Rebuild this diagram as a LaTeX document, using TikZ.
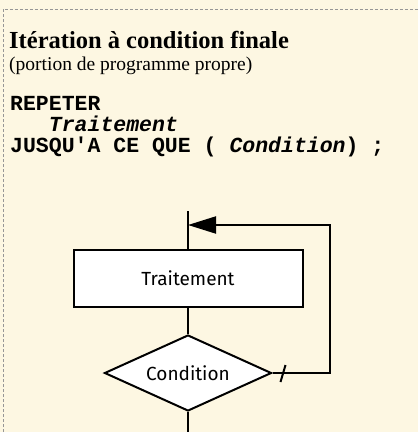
\documentclass[tikz,border=0pt]{standalone}
\usepackage{fontspec}
\setmainfont{Liberation Serif}
\setmonofont{Liberation Mono}
\newfontfamily\dinfont{Fira Sans}
\usetikzlibrary{shapes.geometric,arrows.meta}
\definecolor{papier}{RGB}{253,247,226}
\definecolor{bord}{RGB}{150,150,150}

\begin{document}
\begin{tikzpicture}[x=1pt,y=-1pt,
    trait/.style={line width=2pt},
    texte/.style={anchor=base west,inner sep=0pt},
    code/.style={texte,font=\ttfamily\bfseries\fontsize{21.5}{21}\selectfont},
    boite/.style={draw,trait,fill=white,minimum width=229pt,minimum height=57pt,
        inner sep=0pt,font=\dinfont\fontsize{19}{22}\selectfont},
    test/.style={draw,trait,fill=white,shape=diamond,aspect=2.2,minimum width=167pt,
        minimum height=76pt,inner sep=0pt,font=\dinfont\fontsize{19}{22}\selectfont}]

    % fond et cadre
    \fill[papier] (0,0) rectangle (418,432);
    \useasboundingbox (0,0) rectangle (418,432);
    \draw[bord,densely dashed,line width=0.6pt] (3,432) -- (3,9) -- (418,9);

    % titre
    \node[texte,font=\bfseries\fontsize{24.5}{28}\selectfont] (titre) at (9,48) {Itération à condition finale};
    \node[texte,font=\fontsize{19.5}{24}\selectfont] (sstitre) at (9,70) {(portion de programme propre)};

    % code
    \node[code] (repeter) at (10,110) {REPETER};
    \node[code] (corps) at (10,131) {\phantom{XXX}\itshape Traitement};
    \node[code] (jusqua) at (10,152) {JUSQU\char39 A CE QUE ( {\itshape Condition}) ;};

    % organigramme
    \coordinate (haut) at (188,211);
    \coordinate (retour) at (188,225);
    \coordinate (coinhaut) at (330,225);
    \coordinate (coinbas) at (330,373);
    \coordinate (bas) at (188,432);
    \node[boite] (traitement) at (188,278.5) {Traitement};
    \node[test] (condition) at (188,373) {Condition};

    \draw[trait] (haut) -- (traitement.north);
    \draw[trait] (traitement.south) -- (condition.north);
    \draw[trait] (condition.south) -- (bas);
    \draw[trait,-{Triangle[length=28pt,width=17pt]}] (condition.east) -- (coinbas) -- (coinhaut) -- (retour);
    \draw[trait] ([xshift=13pt,yshift=8pt]condition.east) -- ([xshift=8pt,yshift=-9pt]condition.east);
\end{tikzpicture}
\end{document}
